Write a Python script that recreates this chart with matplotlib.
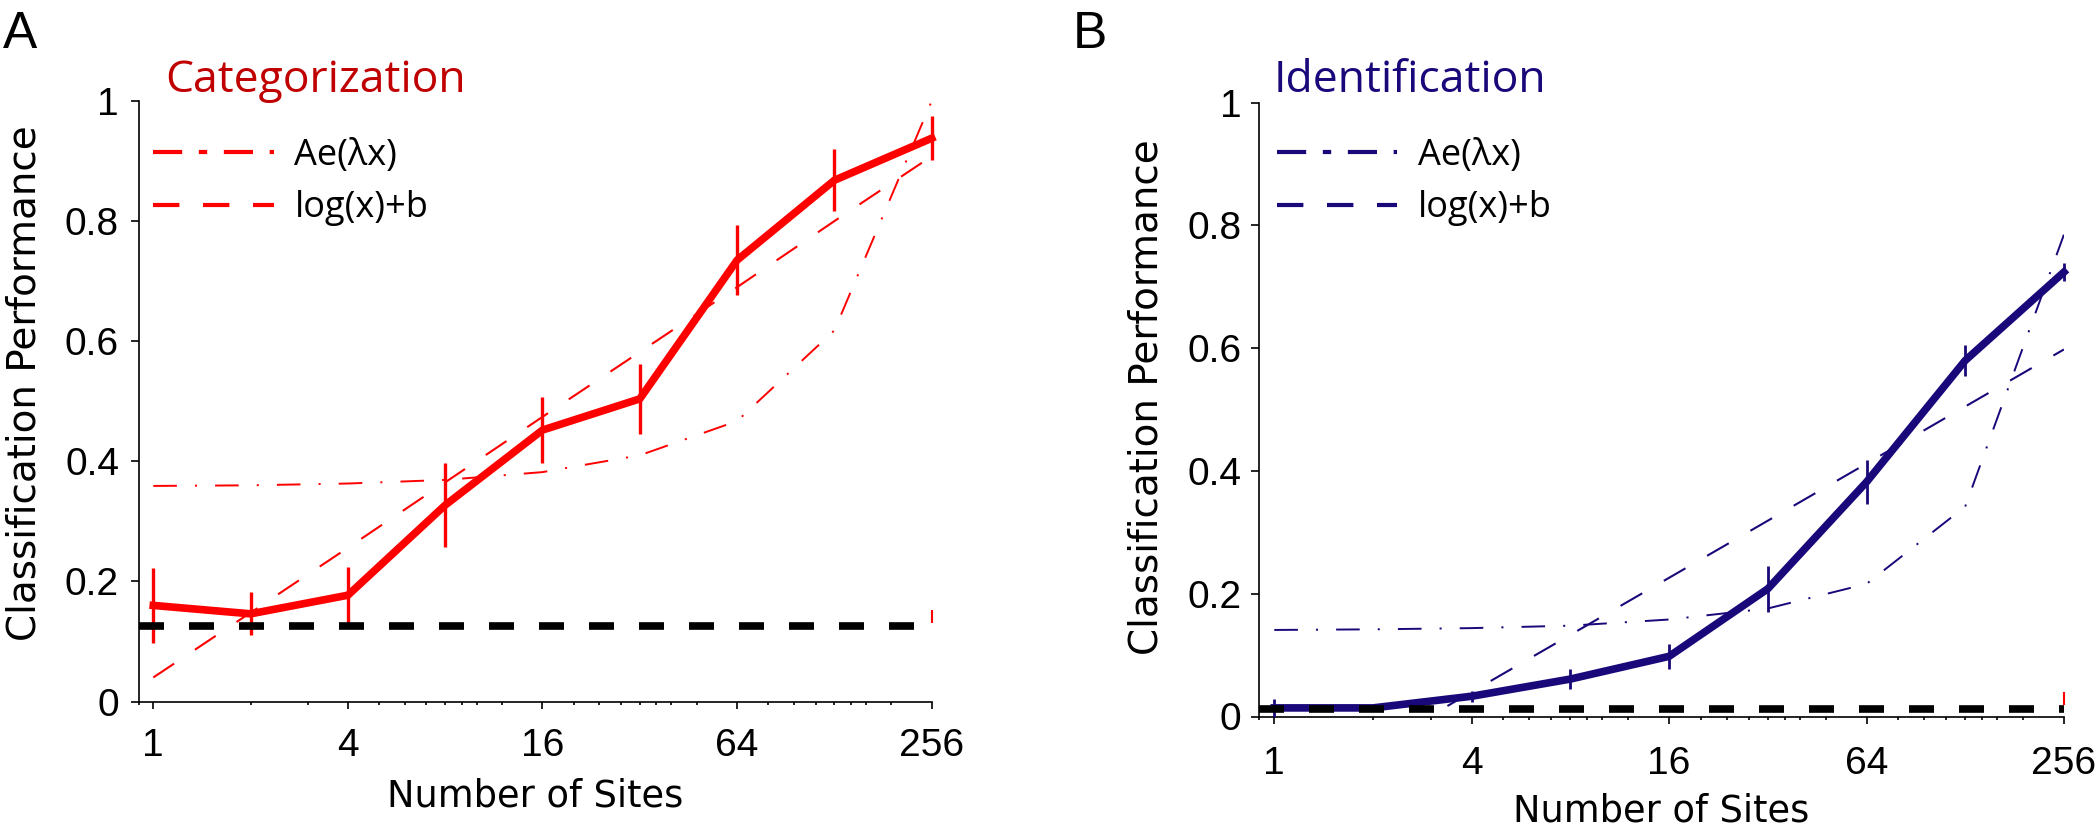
import numpy as np
import matplotlib
matplotlib.use('Agg')
import matplotlib.pyplot as plt
from matplotlib.lines import Line2D
from matplotlib.ticker import NullFormatter

plt.rcParams['font.family'] = ['Liberation Sans', 'DejaVu Sans']
plt.rcParams['lines.scale_dashes'] = False

# numero de sitios (eje x, log2)
sites = [1, 2, 4, 8, 16, 32, 64, 128, 256]
xtick_labels = ['1', '4', '16', '64', '256']

# A - categorizacion
cat_perf = [0.160, 0.146, 0.177, 0.327, 0.452, 0.504, 0.735, 0.868, 0.938]
cat_err = [0.062, 0.036, 0.047, 0.070, 0.055, 0.058, 0.058, 0.052, 0.037]
cat_exp = [0.359, 0.360, 0.363, 0.369, 0.382, 0.410, 0.467, 0.618, 1.000]
cat_log = [0.040, 0.148, 0.256, 0.365, 0.474, 0.582, 0.690, 0.800, 0.908]
cat_chance = 0.125
cat_chance_bar = [0.130, 0.152]

# B - identificacion
id_perf = [0.014, 0.014, 0.033, 0.061, 0.098, 0.208, 0.382, 0.580, 0.724]
id_err = [0.014, 0.004, 0.009, 0.016, 0.020, 0.037, 0.036, 0.026, 0.015]
id_exp = [0.141, 0.142, 0.144, 0.148, 0.158, 0.176, 0.216, 0.342, 0.785]
id_log = [-0.146, -0.053, 0.040, 0.133, 0.226, 0.319, 0.412, 0.505, 0.598]
id_chance = 0.012
id_chance_bar = [0.018, 0.040]

minor_ticks = [0.9, 2, 3, 5, 6, 7, 8, 9, 10, 12, 20, 24, 28, 32, 36, 40, 48,
               80, 96, 112, 128, 144, 160, 192]

RED = '#ff0000'
NAVY = '#18087a'

W, H = 2098., 836.
fig = plt.figure(figsize=(W/100, H/100), dpi=100)


def ejes(l, r, b, t):
    return fig.add_axes([l/W, 1-b/H, (r-l)/W, (b-t)/H])


def panel(ax, perf, err, fexp, flog, chance, cbar, col, elw, xpad, ypad,
          xlab_y, ylab_x, ylab_y, leg_x):
    x = np.array(sites, float)
    p = np.array(perf); e = np.array(err)
    ax.plot(x, fexp, color=col, lw=1.4, dashes=(17, 13, 1.5, 13))
    ax.plot(x, flog, color=col, lw=1.5, dashes=(18, 18))
    ax.plot(x, p, color=col, lw=5.5, solid_joinstyle='round', clip_on=False, zorder=3)
    ax.vlines(x, p-e, p+e, color=col, lw=elw, clip_on=False, zorder=3)
    ax.axhline(chance, color='k', lw=5.5, dashes=(18, 18), zorder=4)
    ax.vlines(x[-1], cbar[0], cbar[1], color='red', lw=1.5, clip_on=False, zorder=4)

    ax.set_xscale('log', base=2)
    ax.set_xlim(0.9, 256)
    ax.set_ylim(0, 1)
    ax.set_xticks([1, 4, 16, 64, 256], xtick_labels)
    ax.set_xticks(minor_ticks, minor=True)
    ax.xaxis.set_minor_formatter(NullFormatter())
    ax.set_yticks([0, 0.2, 0.4, 0.6, 0.8, 1], ['0', '0.2', '0.4', '0.6', '0.8', '1'])
    ax.tick_params(axis='x', which='major', direction='out', length=5, width=1.2,
                   pad=xpad, labelsize=28)
    ax.tick_params(axis='x', which='minor', direction='out', length=2.5, width=1.2)
    ax.tick_params(axis='y', direction='out', length=6, width=1.2, pad=ypad, labelsize=28)
    for s in ['top', 'right']:
        ax.spines[s].set_visible(False)
    for s in ['left', 'bottom']:
        ax.spines[s].set_linewidth(1.2)

    ax.set_xlabel('Number of Sites', fontsize=26.5, family='DejaVu Sans')
    ax.xaxis.set_label_coords(0.5, xlab_y)
    ax.set_ylabel('Classification Performance', fontsize=28, family='DejaVu Sans')
    ax.yaxis.set_label_coords(ylab_x, ylab_y)

    h1 = Line2D([], [], color=col, lw=3, dashes=(21, 12, 6, 12))
    h2 = Line2D([], [], color=col, lw=3, dashes=(19, 17))
    ax.legend([h1, h2], ['Ae(\u03bbx)', 'log(x)+b'], loc='upper left',
              bbox_to_anchor=(leg_x/W, 1-138/H), bbox_transform=fig.transFigure,
              frameon=False, prop={'family': ['Open Sans', 'DejaVu Sans'], 'size': 26},
              handlelength=3.33, handletextpad=0.58, labelspacing=0.45,
              borderpad=0, borderaxespad=0)


axA = ejes(138.5, 931.7, 701.5, 101)
panel(axA, cat_perf, cat_err, cat_exp, cat_log, cat_chance, cat_chance_bar, RED,
      2.4, 14, 8, -0.127, -0.12, 0.53, 153.3)
axB = ejes(1259.3, 2063.9, 716.5, 102.7)
panel(axB, id_perf, id_err, id_exp, id_log, id_chance, id_chance_bar, NAVY,
      2.0, 16, 7, -0.124, -0.117, 0.52, 1277)

fig.text(165/W, 1-91.7/H, 'Categorization', color='#c00000', fontsize=32,
         family='Open Sans', va='baseline', ha='left')
fig.text(1273.3/W, 1-91.7/H, 'Identification', color=NAVY, fontsize=32,
         family='Open Sans', va='baseline', ha='left')
fig.text(3/W, 1-48/H, 'A', fontsize=37, va='baseline', ha='left')
fig.text(1073/W, 1-48/H, 'B', fontsize=37, va='baseline', ha='left')

plt.savefig('out.png', dpi=100)
